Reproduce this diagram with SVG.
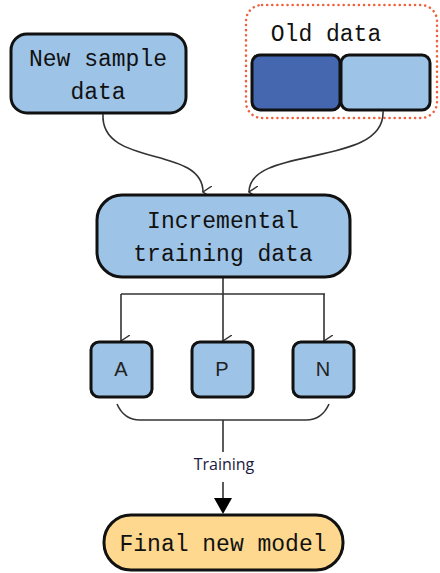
<svg xmlns="http://www.w3.org/2000/svg" width="440" height="573" viewBox="0 0 440 573">
<style>
.box{fill:#9dc3e6;stroke:#111;stroke-width:3}
.mono{font-family:"Liberation Mono","DejaVu Sans Mono",monospace;font-size:23px;fill:#111;text-anchor:middle}
.lbl{font-family:"Liberation Sans",Arial,sans-serif;font-size:20px;fill:#222;text-anchor:middle}
.conn{fill:none;stroke:#333;stroke-width:1.6}
</style>
<defs>
<marker id="open" viewBox="0 0 12 10" refX="6" refY="9" markerWidth="12" markerHeight="10" markerUnits="userSpaceOnUse" orient="auto-start-reverse">
<path d="M0,0 L6,9 L12,0" fill="none" stroke="#333" stroke-width="1.4"/>
</marker>
</defs>
<g id="old-data">
<rect x="246" y="5" width="191" height="113" rx="16" fill="none" stroke="#f0603c" stroke-width="2.5" stroke-dasharray="0.1 5" stroke-linecap="round"/>
<text x="326" y="41" class="mono">Old data</text>
<rect x="252" y="55" width="88" height="55" rx="8" fill="#4467b0" stroke="#111" stroke-width="3"/>
<rect x="341" y="55" width="89" height="55" rx="8" class="box"/>
</g>
<g id="new-sample">
<rect x="11" y="34" width="175" height="79" rx="16" class="box"/>
<text x="98" y="66" class="mono">New sample</text>
<text x="98" y="99" class="mono">data</text>
</g>
<g id="connectors">
<path class="conn" d="M103,114 C100,168 203,145 203,192" marker-end="url(#open)"/>
<path class="conn" d="M383,111 C386,168 249,145 249,192" marker-end="url(#open)"/>
<path class="conn" d="M223,277 V294 M121,294 H325"/>
<path class="conn" d="M121,294 V341" marker-end="url(#open)"/>
<path class="conn" d="M223,294 V341" marker-end="url(#open)"/>
<path class="conn" d="M324,294 V341" marker-end="url(#open)"/>
<path class="conn" d="M117,404 Q124,420 140,420 H306 Q322,420 329,404"/>
<path class="conn" d="M223,420 V452" stroke-width="2"/>
<path class="conn" d="M223,482 V500" stroke-width="2"/>
<path d="M214,498 L232,498 L223,514 Z" fill="#000"/>
<text x="224" y="470" font-family="'Open Sans','DejaVu Sans',sans-serif" font-size="16" fill="#1a1a40" text-anchor="middle">Training</text>
</g>
<g id="incremental">
<rect x="97" y="195" width="253" height="82" rx="25" class="box"/>
<text x="223" y="228" class="mono">Incremental</text>
<text x="223" y="261" class="mono">training data</text>
</g>
<g id="A">
<rect x="91" y="342" width="61" height="55" rx="8" class="box"/>
<text x="121" y="376" class="lbl">A</text>
</g>
<g id="P">
<rect x="192" y="342" width="61" height="55" rx="8" class="box"/>
<text x="222" y="376" class="lbl">P</text>
</g>
<g id="N">
<rect x="293" y="342" width="61" height="55" rx="8" class="box"/>
<text x="323" y="376" class="lbl">N</text>
</g>
<g id="final">
<rect x="104" y="515" width="239" height="55" rx="27" fill="#fdd88e" stroke="#111" stroke-width="3"/>
<text x="223" y="551" class="mono">Final new model</text>
</g>
</svg>
